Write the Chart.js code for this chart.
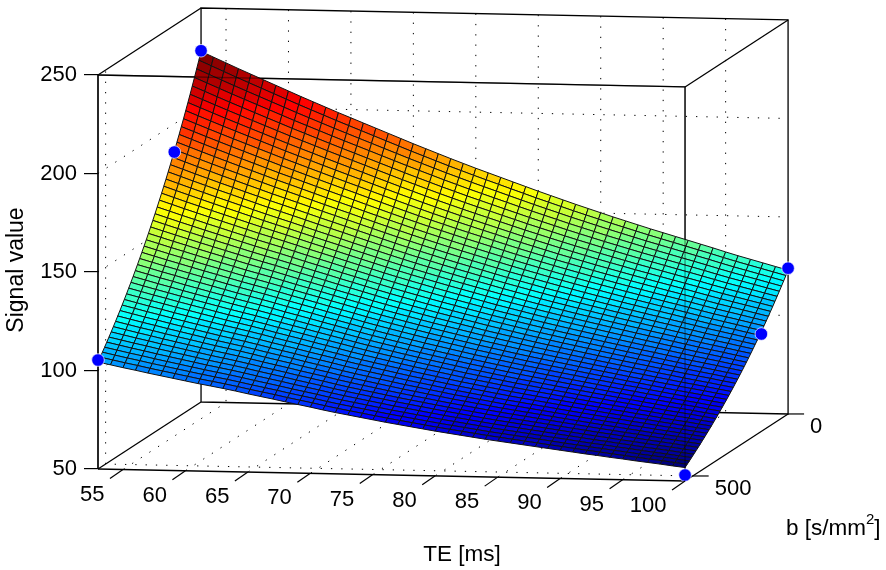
<!DOCTYPE html>
<html>
<head>
<meta charset="utf-8">
<style>
html, body { margin: 0; padding: 0; background: #fff; }
#chart_wrap { width: 886px; height: 570px; }
</style>
<script src="https://cdn.jsdelivr.net/npm/chart.js@4"></script>
</head>
<body>
<div id="chart_wrap"><canvas id="signal_chart" width="886" height="570"></canvas></div>
<script>
// mesh axes
const te_values = [53,54,55,56,57,58,59,60,61,62,63,64,65,66,67,68,69,70,71,72,73,74,75,76,77,78,79,80,81,82,83,84,85,86,87,88,89,90,91,92,93,94,95,96,97,98,99,100];
const b_values = [0,11.5,23,34.5,46,57.4,68.9,80.4,91.9,103.4,114.9,126.4,137.9,149.4,160.9,172.3,183.8,195.3,206.8,218.3,229.8,241.3,252.8,264.3,275.7,287.2,298.7,310.2,321.7,333.2,344.7,356.2,367.7,379.1,390.6,402.1,413.6,425.1,436.6,448.1,459.6,471.1,482.6,494,505.5,517,528.5,540];

// surface edges, one value per te_values entry.
// Only these two edges are read; inner mesh nodes are blended between them.
const signal_b0 = [228.0,225.2,222.4,219.6,216.9,214.2,211.5,208.8,206.1,203.5,200.9,198.3,195.8,193.3,190.8,188.3,185.8,183.3,180.9,178.5,176.1,173.8,171.5,169.3,167.1,164.9,162.7,160.5,158.4,156.3,154.2,152.2,150.2,148.2,146.3,144.4,142.5,140.7,138.9,137.1,135.3,133.5,131.6,129.8,128.1,126.4,124.7,123.0];
const signal_bmax = [104.3,103.0,101.7,100.5,99.2,98.0,96.8,95.6,94.4,93.3,92.2,91.0,89.7,88.5,87.3,86.0,84.8,83.6,82.3,81.1,80.0,78.9,77.8,76.7,75.7,74.7,73.7,72.7,71.8,70.9,70.0,69.1,68.3,67.5,66.7,65.9,65.1,64.3,63.5,62.7,62.0,61.2,60.5,59.7,59.0,58.3,57.5,56.8];

// measured points (blue dots)
const point_te = [53, 53, 53, 100, 100, 100];
const point_b = [0, 140, 540, 0, 140, 540];
const point_signal = [228.3, 185.7, 105.3, 124, 99.4, 53];

// ticks
const te_ticks = [55, 60, 65, 70, 75, 80, 85, 90, 95, 100];
const b_ticks = [0, 500];
const signal_ticks = [50, 100, 150, 200, 250];

// view of the 3D box
const te_min = 53, te_max = 100, b_max = 540, z_min = 50, z_max = 250;
const depth_x = 8.25, depth_y = 34, tilt_y = 0.129;

function project(te, b, z) {
    const depth = 1 - b / b_max;
    return { x: te + depth * depth_x, y: z - (te - te_min) * tilt_y + depth * depth_y };
}

function jet(t) {
    const level = Math.min(63, Math.floor(t * 64)) / 63;
    const v = 4 * level;
    const channel = function (c) { return Math.round(255 * Math.max(0, Math.min(1, 1.5 - Math.abs(v - c)))); };
    return 'rgb(' + channel(3) + ',' + channel(2) + ',' + channel(1) + ')';
}

function line_set(points, color, width, dash) {
    return {
        data: points,
        showLine: true,
        fill: false,
        borderColor: color,
        borderWidth: width,
        borderDash: dash || [],
        pointRadius: 0,
        clip: false
    };
}

let layers = [];
const dots = [1.3, 9];
const dot_color = '#000';
const edge = 1.3;

// dotted grid on the back walls and floor
signal_ticks.forEach(function (z) {
    if (z != z_min && z != z_max) {
        layers.push(line_set([project(te_min, b_max, z), project(te_min, 0, z), project(te_max, 0, z)], dot_color, 1, dots));
    }
});
te_ticks.forEach(function (te) {
    if (te != te_max) {
        layers.push(line_set([project(te, 0, z_max), project(te, 0, z_min), project(te, b_max, z_min)], dot_color, 1, dots));
    }
});
b_ticks.forEach(function (b) {
    if (b != 0) {
        layers.push(line_set([project(te_max, b, z_min), project(te_min, b, z_min), project(te_min, b, z_max)], dot_color, 1, dots));
    }
});

// box lines behind the surface
layers.push(line_set([project(te_min, 0, z_min), project(te_max, 0, z_min), project(te_max, 0, z_max), project(te_min, 0, z_max), project(te_min, 0, z_min)], '#000', edge));
layers.push(line_set([project(te_min, b_max, z_max), project(te_min, 0, z_max)], '#000', edge));
layers.push(line_set([project(te_max, b_max, z_max), project(te_max, 0, z_max)], '#000', edge));
layers.push(line_set([project(te_min, b_max, z_min), project(te_min, 0, z_min)], '#000', edge));
layers.push(line_set([project(te_max, b_max, z_min), project(te_max, 0, z_min)], '#000', edge));
layers.push(line_set([project(te_min, b_max, z_min), project(te_max, b_max, z_min)], '#000', 1.6));
layers.push(line_set([project(te_min, b_max, z_min), project(te_min, b_max, z_max)], '#000', 1.7));
layers.push(line_set([project(te_min, b_max, z_max), project(te_max, b_max, z_max), project(te_max, b_max, z_min)], '#000', edge));

// the mesh
function signal_at(i, j) {
    const f = b_values[i] / b_max;
    return Math.exp(Math.log(signal_b0[j]) * (1 - f) + Math.log(signal_bmax[j]) * f);
}
const signal_top = signal_at(0, 0), signal_low = signal_at(b_values.length - 1, te_values.length - 1);
for (let i = 0; i < b_values.length - 1; i++) {
    for (let j = 0; j < te_values.length - 1; j++) {
        const corners = [[i, j], [i, j + 1], [i + 1, j + 1], [i + 1, j], [i, j]];
        let quad = line_set(corners.map(function (c) {
            return project(te_values[c[1]], b_values[c[0]], signal_at(c[0], c[1]));
        }), '#111', 1);
        quad.fill = 'shape';
        quad.backgroundColor = jet((signal_at(i, j) - signal_low) / (signal_top - signal_low));
        layers.push(quad);
    }
}

// front box lines show faintly through the surface
layers.push(line_set([project(te_min, b_max, z_max), project(te_max, b_max, z_max), project(te_max, b_max, z_min)], 'rgba(0,0,0,0.4)', edge));

// blue points
layers.push({
    data: point_te.map(function (te, k) { return project(te, point_b[k], point_signal[k]); }),
    showLine: false,
    pointRadius: 6.3,
    pointBorderWidth: 1,
    pointBorderColor: 'rgba(255,255,255,0.7)',
    pointBackgroundColor: '#0000ff',
    clip: false
});

// Chart.js paints the first dataset last
layers.reverse();

const font_name = '"Liberation Sans", Arial, sans-serif';
const tick_size = 22;
const title_size = 22.5;

const box_text = {
    id: 'box_text',
    afterDraw: function (chart) {
        const ctx = chart.ctx;
        const sx = chart.scales.x, sy = chart.scales.y;
        const px = function (p) { return { x: sx.getPixelForValue(p.x), y: sy.getPixelForValue(p.y) }; };

        ctx.save();
        ctx.strokeStyle = '#000';
        ctx.lineWidth = 1.2;
        ctx.fillStyle = '#000';
        ctx.font = tick_size + 'px ' + font_name;
        ctx.textBaseline = 'middle';

        // TE ticks run off the front floor edge
        ctx.textAlign = 'right';
        te_ticks.forEach(function (te) {
            const p = px(project(te, b_max, z_min));
            ctx.beginPath();
            ctx.moveTo(p.x, p.y);
            ctx.lineTo(p.x - 13, p.y + 9);
            ctx.stroke();
            ctx.fillText(String(te), p.x - 18.5, p.y + 25);
        });

        // b ticks run off the right floor edge
        ctx.textAlign = 'left';
        b_ticks.forEach(function (b) {
            const p = px(project(te_max, b, z_min));
            ctx.beginPath();
            ctx.moveTo(p.x, p.y);
            ctx.lineTo(p.x + 16, p.y);
            ctx.stroke();
            ctx.fillText(String(b), p.x + 22, p.y + 13);
        });

        // axis titles
        ctx.font = title_size + 'px ' + font_name;
        ctx.textAlign = 'center';
        ctx.fillText('TE [ms]', 462, 555);

        ctx.textAlign = 'left';
        ctx.fillText('b [s/mm', 786, 529);
        const w = ctx.measureText('b [s/mm').width;
        ctx.font = '15px ' + font_name;
        ctx.fillText('2', 786 + w, 520);
        const w2 = ctx.measureText('2').width;
        ctx.font = title_size + 'px ' + font_name;
        ctx.fillText(']', 786 + w + w2, 529);

        ctx.font = '23px ' + font_name;
        ctx.translate(17, 270);
        ctx.rotate(-Math.PI / 2);
        ctx.textAlign = 'center';
        ctx.fillText('Signal value', 0, 0);
        ctx.restore();
    }
};

const ctx = document.getElementById('signal_chart');

new Chart(ctx, {
    type: 'scatter',
    data: { datasets: layers },
    options: {
        responsive: false,
        animation: false,
        events: [],
        layout: { padding: 0, autoPadding: false },
        plugins: { legend: { display: false }, tooltip: { enabled: false } },
        scales: {
            x: { type: 'linear', display: false, min: 53, max: 116.09 },
            y: {
                type: 'linear',
                min: -1.27,
                max: 288.07,
                border: { display: false },
                grid: { drawOnChartArea: false, drawTicks: true, tickLength: 14, color: '#000', lineWidth: 1.2 },
                ticks: { color: '#000', padding: 7, autoSkip: false, font: { family: font_name, size: tick_size } },
                afterBuildTicks: function (scale) {
                    scale.ticks = signal_ticks.map(function (v) { return { value: v }; });
                },
                afterFit: function (scale) {
                    scale.width = 98;
                    scale.paddingTop = 0;
                    scale.paddingBottom = 0;
                }
            }
        }
    },
    plugins: [box_text]
});
</script>
</body>
</html>
